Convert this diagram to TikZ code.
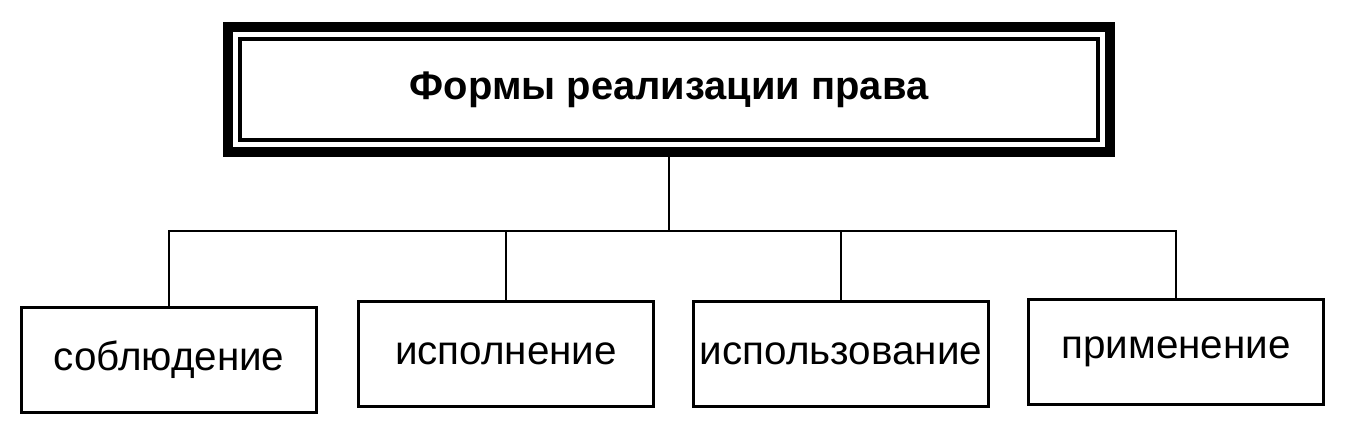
\documentclass[tikz,border=0pt]{standalone}
\usepackage{fontspec}
\setmainfont{Liberation Sans}
\usetikzlibrary{calc}

\begin{document}
\begin{tikzpicture}[x=0.02cm, y=-0.02cm]
		\useasboundingbox (0, 0) rectangle (1355, 443);
		
		\begin{scope}[every node/.style={rectangle, draw, line width = 1.2pt, minimum width = 5.9cm, minimum height = 2.1cm, font = \fontsize{23}{27}\selectfont}]
		\node (obs) at (169, 360) {соблюдение};
		\node (isp) at (506, 354) {исполнение};
		\node (ispz) at (841, 354) {использование};
		\node (prim) at (1176, 352) {применение};
		\end{scope}
		
		\node (top) [rectangle, draw, line width = 5.7pt, minimum width = 17.64cm, minimum height = 2.5cm, font = \bfseries\fontsize{22.7}{27}\selectfont] at (669, 89.5) {Формы реализации права};
		
		% inner thin frame
		\draw [line width = 2.2pt]
		($(top.north west) + (17, 17)$) rectangle
		($(top.south east) + (-17, -17)$);
		
		\coordinate (fork) at (669, 231);
		
		\begin{scope}[line width = 1.2pt]
		\draw (top.south) -- (fork);
		\draw (obs.north) |- (fork -| prim.north) -- (prim.north);
		\draw (isp.north) -- (isp.north |- fork);
		\draw (ispz.north) -- (ispz.north |- fork);
		\end{scope}
		
		\end{tikzpicture}
\end{document}
